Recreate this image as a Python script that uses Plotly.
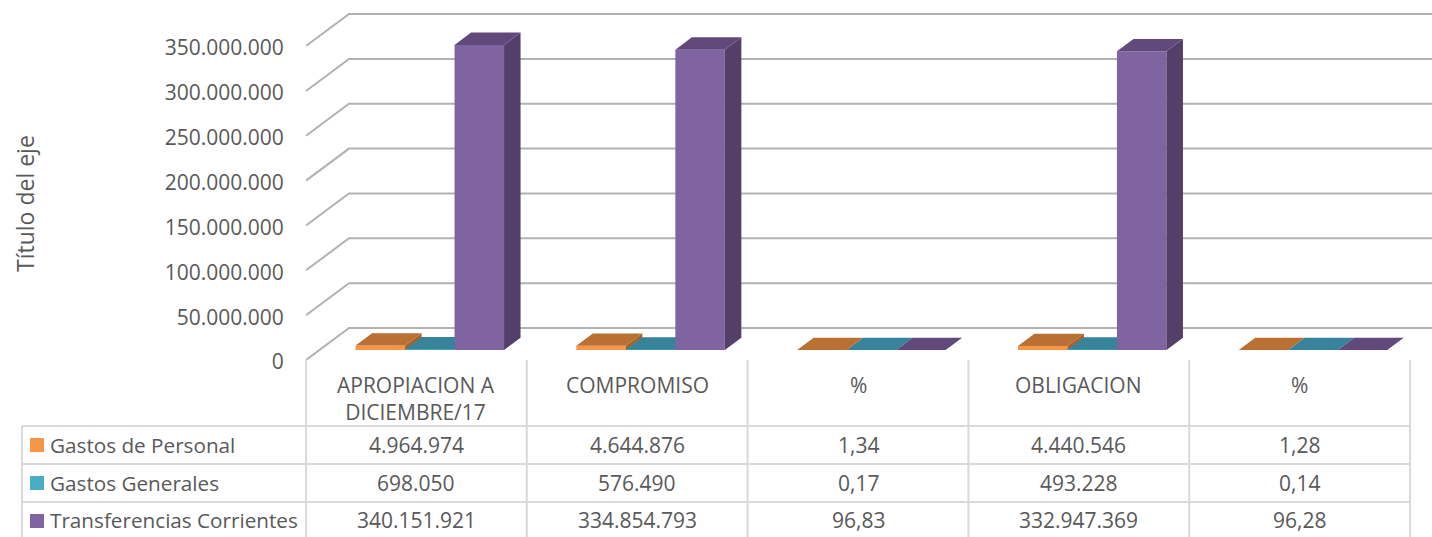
import plotly.graph_objects as go

# ---------- data ----------
categories = ["APROPIACION A<br>DICIEMBRE/17", "COMPROMISO", "%", "OBLIGACION", "%"]
series_names = ["Gastos de Personal", "Gastos Generales", "Transferencias Corrientes"]
gastos_personal = [4964974, 4644876, 1.34, 4440546, 1.28]
gastos_generales = [698050, 576490, 0.17, 493228, 0.14]
transferencias = [340151921, 334854793, 96.83, 332947369, 96.28]
y_ticks = [0, 50000000, 100000000, 150000000, 200000000, 250000000, 300000000, 350000000]
axis_title = "Título del eje"

# ---------- styles ----------
front = ["#F79646", "#4BACC6", "#8064A2"]
top = ["#B97032", "#36839A", "#614A7B"]
side = ["#A5622A", "#2F7388", "#533F6A"]
TXT = "#595959"
GRID = "#B2B2B2"
TBL = "#D9D9D9"
FONT = "Open Sans"
FS = 21

W, H = 1432, 537
X0, Y0 = 306, 360          # front-left floor corner, pixels
CAT_PX = 220.8             # pixels per category
VAL_PX = 0.897e-6          # pixels per unit of value
BAR_PX = 49.5
WALL_DX, WALL_DY = 43, 32  # oblique depth of the walls
BAR_DX, BAR_DY = 16.5, 12.3
SHIFT_DX, SHIFT_DY = 13.4, 10  # bar front plane relative to the axis plane


def dx(px):
    return px / CAT_PX


def dy(px):
    return px / VAL_PX


def px_x(p):
    return (p - X0) / (W - X0)


def px_y(p):
    return (Y0 - p) / Y0


xr = [0, dx(W - X0)]
yr = [0, dy(Y0)]

fig = go.Figure()

# walls / gridlines
gx, gy = [], []
for t in y_ticks:
    gx += [0, dx(WALL_DX), xr[1], None]
    gy += [t, t + dy(WALL_DY), t + dy(WALL_DY), None]
fig.add_trace(go.Scatter(x=gx, y=gy, mode="lines", line=dict(color=GRID, width=2),
                         hoverinfo="skip", showlegend=False))

n_cat = len(categories)
gap = (CAT_PX - 3 * BAR_PX) / 2
for s, (name, vals) in enumerate(zip(series_names, [gastos_personal, gastos_generales, transferencias])):
    refs = dict(xaxis="x2", yaxis="y2") if s == 2 else dict(xaxis="x", yaxis="y")
    lefts = [i + dx(gap + SHIFT_DX + BAR_PX * s) for i in range(n_cat)]
    base = dy(SHIFT_DY)
    w = dx(BAR_PX)
    fig.add_trace(go.Bar(x=[l + w / 2 for l in lefts], y=vals, base=[base] * n_cat,
                         width=[w] * n_cat, marker=dict(color=front[s], line=dict(width=0)),
                         name=name, showlegend=False, **refs))
    tx, ty, sx, sy = [], [], [], []
    for l, v in zip(lefts, vals):
        b, t = base, base + v
        r = l + w
        ox, oy = dx(BAR_DX), dy(BAR_DY)
        tx += [l, r, r + ox, l + ox, l, None]
        ty += [t, t, t + oy, t + oy, t, None]
        sx += [r, r + ox, r + ox, r, r, None]
        sy += [b, b + oy, t + oy, t, b, None]
    fig.add_trace(go.Scatter(x=sx, y=sy, mode="lines", fill="toself", fillcolor=side[s],
                             line=dict(width=0, color=side[s]), hoverinfo="skip", showlegend=False, **refs))
    fig.add_trace(go.Scatter(x=tx, y=ty, mode="lines", fill="toself", fillcolor=top[s],
                             line=dict(width=0, color=top[s]), hoverinfo="skip", showlegend=False, **refs))

# ---------- data table ----------
ROWS = [426, 464, 502]
ROW_MID = [445, 483, 520]
SWATCH = [438, 476, 514]
TBL_L = 22
HEAD_TOP = 370
shapes, annos = [], []


def line(x0, y0, x1, y1):
    shapes.append(dict(type="line", xref="paper", yref="paper", layer="below",
                       x0=px_x(x0), y0=px_y(y0), x1=px_x(x1), y1=px_y(y1),
                       line=dict(color=TBL, width=2)))


def text(x, y, s, xanchor="center", yanchor="middle", size=FS, **kw):
    annos.append(dict(xref="paper", yref="paper", x=px_x(x), y=px_y(y), text=s,
                      showarrow=False, xanchor=xanchor, yanchor=yanchor,
                      font=dict(family=FONT, size=size, color=TXT), borderpad=0, **kw))


right = X0 + CAT_PX * n_cat
for r in ROWS:
    line(TBL_L, r, right, r)
line(TBL_L, ROWS[0], TBL_L, H)
for i in range(n_cat + 1):
    line(X0 + CAT_PX * i, Y0, X0 + CAT_PX * i, H)


def cell(v, cat):
    if cat == "%":
        return f"{v:.2f}".replace(".", ",")
    return f"{v:,.0f}".replace(",", ".")


for i, c in enumerate(categories):
    text(X0 + CAT_PX * (i + 0.5), HEAD_TOP, c, yanchor="top")
for s, (name, vals) in enumerate(zip(series_names, [gastos_personal, gastos_generales, transferencias])):
    shapes.append(dict(type="rect", xref="paper", yref="paper", x0=px_x(30), x1=px_x(44),
                       y0=px_y(SWATCH[s]), y1=px_y(SWATCH[s] + 14),
                       fillcolor=front[s], line=dict(width=0)))
    text(49, ROW_MID[s], name, xanchor="left", size=20.7)
    for i, v in enumerate(vals):
        text(X0 + CAT_PX * (i + 0.5), ROW_MID[s], cell(v, categories[i]))

text(25, 204, axis_title, size=23, textangle=-90)

fig.update_layout(
    width=W, height=H,
    margin=dict(l=X0, r=0, t=0, b=H - Y0, pad=0),
    paper_bgcolor="white", plot_bgcolor="rgba(0,0,0,0)",
    separators=",.",
    barmode="overlay", showlegend=False,
    font=dict(family=FONT, size=FS, color=TXT),
    shapes=shapes, annotations=annos,
    xaxis=dict(range=xr, visible=False, fixedrange=True),
    yaxis=dict(range=yr, tickvals=y_ticks, tickformat=",", showgrid=False, zeroline=False,
               showline=False, ticks="outside", ticklen=17, tickcolor="rgba(0,0,0,0)",
               ticklabelshift=2,
               tickfont=dict(family=FONT, size=FS, color=TXT), fixedrange=True),
    xaxis2=dict(range=xr, visible=False, overlaying="x", matches="x"),
    yaxis2=dict(range=yr, visible=False, overlaying="y", matches="y"),
)

fig.write_html("out.html", config=dict(displayModeBar=False),
               post_script="document.body.style.margin='0';document.body.style.overflow='hidden';")
